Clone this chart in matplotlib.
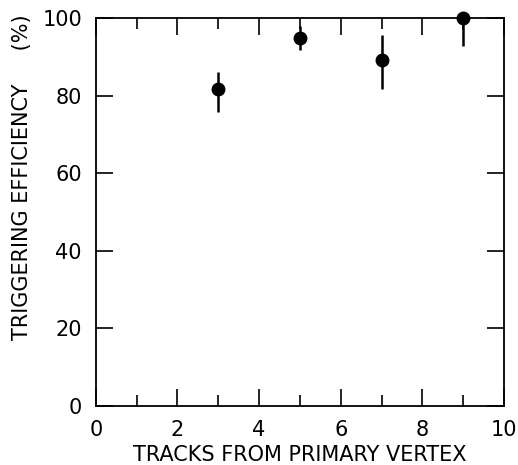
import numpy as np
import matplotlib.pyplot as plt
from matplotlib.ticker import MultipleLocator

# data
tracks = [3, 5, 7, 9]
efficiency = [81.6, 95.0, 89.2, 100.0]
err_low = [5.7, 3.1, 7.5, 7.2]
err_high = [4.6, 2.9, 6.4, 0.0]

x_ticks = [0, 2, 4, 6, 8, 10]
y_ticks = [0, 20, 40, 60, 80, 100]

plt.rcParams['font.family'] = ['DejaVu Sans']

fig = plt.figure(figsize=(5.18, 4.65), dpi=100)
ax = fig.add_axes([0.185, 0.127, 0.788, 0.834])

ax.errorbar(tracks, efficiency, yerr=[err_low, err_high], fmt='o', color='black',
            markersize=9, elinewidth=1.8, capsize=0, clip_on=False, zorder=3)

ax.set_xlim(0, 10)
ax.set_ylim(0, 100)
ax.set_xticks(x_ticks)
ax.set_yticks(y_ticks)
ax.xaxis.set_minor_locator(MultipleLocator(1))

ax.tick_params(which='both', direction='in', top=True, right=True, width=1.2,
               labelsize=15, colors='black')
ax.tick_params(which='major', length=12)
ax.tick_params(which='minor', length=8)
ax.tick_params(axis='x', pad=10)
ax.tick_params(axis='y', pad=10)

for s in ax.spines.values():
    s.set_linewidth(1.3)

ax.set_xlabel('TRACKS FROM PRIMARY VERTEX', fontsize=15, labelpad=4)
ax.set_ylabel('TRIGGERING EFFICIENCY     (%)', fontsize=15)
ax.yaxis.set_label_coords(-0.18, 0.59)
ax.yaxis.label.set_va('center')

fig.savefig('out.png', dpi=100)
